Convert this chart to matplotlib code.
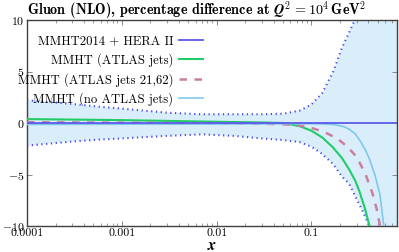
import numpy as np
import matplotlib
matplotlib.use("Agg")
import matplotlib.pyplot as plt
from matplotlib.ticker import FixedLocator, NullFormatter, LogLocator

plt.rcParams['font.family'] = 'cmr10'
plt.rcParams['mathtext.fontset'] = 'cm'
plt.rcParams['axes.formatter.use_mathtext'] = True

# error band of MMHT2014 + HERA II (percent)
band_x = [1e-4, 3e-4, 6e-4, 1e-3, 3e-3, 7e-3, 0.015, 0.03, 0.05, 0.075, 0.1, 0.13,
          0.17, 0.21, 0.25, 0.3, 0.35, 0.41, 0.5, 0.6, 0.8]
band_up = [2.2, 1.85, 1.57, 1.4, 1.0, 0.85, 0.85, 0.85, 0.9, 1.2, 1.8, 2.9,
           5.0, 7.3, 8.8, 10.4, 13, 16, 20, 25, 30]
band_lo = [-2.2, -1.8, -1.6, -1.5, -1.25, -1.1, -1.25, -1.5, -1.65, -1.85, -2.3, -3.0,
           -4.0, -5.2, -5.9, -7.4, -8.6, -10.1, -13, -16, -20]

# percentage differences w.r.t. MMHT2014 + HERA II
cx_green = [1e-4, 1e-3, 0.01, 0.03, 0.05, 0.075, 0.1, 0.13, 0.166, 0.21, 0.25, 0.29, 0.32, 0.37, 0.41, 0.5]
cy_green = [0.38, 0.28, 0.12, 0.05, 0.0, -0.3, -0.75, -1.4, -2.3, -3.4, -4.5, -5.6, -6.6, -8.4, -10.0, -15]

cx_pink = [1e-4, 1e-3, 0.01, 0.03, 0.05, 0.075, 0.097, 0.12, 0.15, 0.19, 0.24, 0.3, 0.37, 0.44, 0.49, 0.53, 0.6]
cy_pink = [0.08, 0.03, -0.03, -0.08, -0.12, -0.25, -0.45, -0.7, -1.05, -1.55, -2.3, -3.3, -4.9, -6.8, -8.4, -10.0, -14]

cx_lblue = [1e-4, 1e-3, 0.01, 0.05, 0.1, 0.14, 0.18, 0.22, 0.25, 0.29, 0.33, 0.37, 0.41, 0.47, 0.53, 0.58, 0.65]
cy_lblue = [-0.14, -0.12, -0.1, -0.08, -0.07, -0.1, -0.18, -0.35, -0.6, -1.05, -1.8, -2.6, -3.5, -5.1, -7.0, -10.0, -14]

ref_x = [1e-4, 0.8]
ref_y = [0.0, 0.0]

labels = ['MMHT2014 + HERA II', 'MMHT (ATLAS jets)', 'MMHT (ATLAS jets 21,62)', 'MMHT (no ATLAS jets)']

fig = plt.figure(figsize=(3.99, 2.52), dpi=100)
ax = fig.add_axes([27/399, 1-226/252, 370/399, 206/252])

ax.fill_between(band_x, band_lo, band_up, color='#d9edfa', lw=0, zorder=1)
ax.plot(band_x, band_up, color='#4a4ae8', lw=1.5, ls=(0, (0.6, 1.7)), zorder=2)
ax.plot(band_x, band_lo, color='#4a4ae8', lw=1.5, ls=(0, (0.6, 1.7)), zorder=2)

l0, = ax.plot(ref_x, ref_y, color='#5b5bea', lw=1.3, zorder=5)
l1, = ax.plot(cx_green, cy_green, color='#1fcc66', lw=1.5, zorder=4)
l2, = ax.plot(cx_pink, cy_pink, color='#c8809e', lw=1.8, ls=(0, (3, 3)), zorder=4)
l3, = ax.plot(cx_lblue, cy_lblue, color='#80c8ee', lw=1.2, zorder=4)

ax.set_xscale('log')
ax.set_xlim(1e-4, 0.8)
ax.set_ylim(-10, 10)

ax.xaxis.set_major_locator(FixedLocator([1e-4, 1e-3, 1e-2, 1e-1]))
ax.set_xticklabels(['0.0001', '0.001', '0.01', '0.1'], fontsize=8.5)
ax.xaxis.set_minor_locator(LogLocator(base=10, subs=np.arange(2, 10)))
ax.xaxis.set_minor_formatter(NullFormatter())
ax.set_yticks([-10, -5, 0, 5, 10])
ax.set_yticklabels([r'$-10$', r'$-5$', r'$0$', r'$5$', r'$10$'], fontsize=8.5)
ax.tick_params(which='both', direction='in', top=True, right=True, color='#777777')
ax.tick_params(which='major', length=3.5, width=0.6, pad=2)
ax.tick_params(which='minor', length=2, width=0.5)
for s in ax.spines.values():
    s.set_color('#404040')
    s.set_linewidth(1.0)

ax.set_xlabel(r'$\mathbfit{x}$', fontsize=11.5, labelpad=0.5)
fig.text(27/399, 1-11/252, r'Gluon (NLO), percentage difference at $\mathbfit{Q}^{\mathbf{2}}\mathbf{\,=10^4\,GeV^2}$',
         fontsize=10.2, family='cmb10', ha='left', va='center')

leg = ax.legend([l0, l1, l2, l3], labels, loc='upper right', bbox_to_anchor=(203/399, 1-35/252),
                bbox_transform=fig.transFigure, frameon=False, markerfirst=False,
                fontsize=9.1, handlelength=1.9, handletextpad=0.45, labelspacing=0.47,
                borderpad=0, borderaxespad=0)

fig.savefig('out.png', dpi=100)
